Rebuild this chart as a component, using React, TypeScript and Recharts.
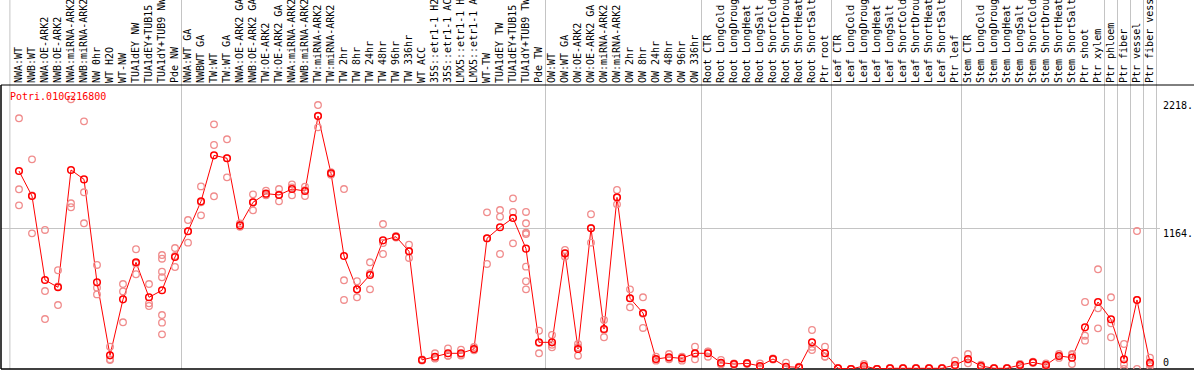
import React from 'react';
import { ComposedChart, Line, XAxis, YAxis, ReferenceLine } from 'recharts';

const title = 'Potri.010G216800';

const categories = [
  'NWA:WT', 'NWB:WT', 'NWA:OE-ARK2', 'NWB:OE-ARK2', 'NWA:miRNA-ARK2', 'NWB:miRNA-ARK2',
  'NW 0hr', 'WT H2O', 'WT-NW', 'TUA1dEY NW', 'TUA1dEY+TUB15 ', 'TUA1dY+TUB9 NW', 'Pde NW',
  'NWA:WT GA', 'NWBWT GA', 'TW:WT', 'TW:WT GA', 'NWA:OE-ARK2 GA', 'NWB:OE-ARK2 GA',
  'TW:OE-ARK2', 'TW:OE-ARK2 GA', 'NWA:miRNA-ARK2', 'NWB:miRNA-ARK2', 'TW:miRNA-ARK2',
  'TW:miRNA-ARK2', 'TW 2hr', 'TW 8hr', 'TW 24hr', 'TW 48hr', 'TW 96hr', 'TW 336hr',
  'WT ACC', '35S::etr1-1 H2', '35S::etr1-1 AC', 'LMX5::etr1-1 H', 'LMX5::etr1-1 A',
  'WT-TW', 'TUA1dEY TW', 'TUA1dEY+TUB15 ', 'TUA1dY+TUB9 TW', 'Pde TW',
  'OW:WT', 'OW:WT GA', 'OW:OE-ARK2', 'OW:OE-ARK2 GA', 'OW:miRNA-ARK2', 'OW:miRNA-ARK2',
  'OW 2hr', 'OW 8hr', 'OW 24hr', 'OW 48hr', 'OW 96hr', 'OW 336hr',
  'Root CTR', 'Root LongCold', 'Root LongDroug', 'Root LongHeat', 'Root LongSalt',
  'Root ShortCold', 'Root ShortDrou', 'Root ShortHeat', 'Root ShortSalt', 'Ptr root',
  'Leaf CTR', 'Leaf LongCold', 'Leaf LongDroug', 'Leaf LongHeat', 'Leaf LongSalt',
  'Leaf ShortCold', 'Leaf ShortDrou', 'Leaf ShortHeat', 'Leaf ShortSalt', 'Ptr leaf',
  'Stem CTR', 'Stem LongCold', 'Stem LongDroug', 'Stem LongHeat', 'Stem LongSalt',
  'Stem ShortCold', 'Stem ShortDrou', 'Stem ShortHeat', 'Stem ShortSalt',
  'Ptr shoot', 'Ptr xylem', 'Ptr phloem', 'Ptr fiber', 'Ptr vessel', 'Ptr fiber vess',
];

const meanValues = [
  1640, 1433, 737, 677, 1649, 1571, 718, 113, 577, 884, 594, 652, 928, 1141, 1389, 1770,
  1746, 1190, 1381, 1453, 1442, 1491, 1475, 2096, 1621, 936, 660, 779, 1066, 1096, 975,
  75, 102, 130, 130, 166, 1083, 1174, 1251, 997, 221, 221, 958, 166, 1166, 331, 1422,
  586, 464, 83, 97, 88, 130, 130, 52, 41, 47, 25, 83, 19, 14, 221, 130, 6, 0, 25, 0, 6,
  6, 6, 6, 6, 33, 83, 25, 6, 6, 33, 55, 33, 108, 94, 345, 555, 412, 80, 572, 52,
];

const replicateValues: number[][] = [
  [2077, 1489, 1356], [1737, 1124, 1438], [1152, 646, 414], [818, 530, 683],
  [2234, 1373, 1340], [2052, 1464, 1207], [862, 674, 618], [185, 80, 74],
  [704, 643, 387], [992, 785, 875], [704, 544, 522], [944, 914, 806, 760, 447, 384, 287],
  [1002, 845, 937], [1234, 1047, 1142], [1513, 1273, 1381], [2027, 1856, 1431],
  [1903, 1588, 1747], [1179, 1185, 1206], [1447, 1315, 1381], [1477, 1439, 1443],
  [1491, 1389, 1446], [1530, 1439, 1504], [1510, 1433, 1482], [2187, 2002, 2099],
  [1630, 1610, 1623], [1491, 735, 572], [727, 594, 660], [884, 660, 793],
  [1201, 953, 1044], [1096, 1090, 1102], [1030, 920, 975], [80, 70, 75],
  [130, 88, 88], [171, 110, 109], [160, 118, 112], [182, 155, 161],
  [1298, 870, 1081], [1317, 1262, 953], [1414, 1301, 1041],
  [1301, 1207, 1129, 1118, 848, 727, 660], [317, 130, 216], [282, 180, 201],
  [986, 930, 958], [207, 110, 180], [1282, 1047, 1169], [406, 263, 324],
  [1483, 1364, 1419], [660, 511, 587], [594, 340, 458], [102, 69, 78],
  [124, 80, 87], [102, 69, 93], [185, 80, 125], [102, 145, 143],
  [75, 39, 42], [41, 35, 47], [50, 41, 50], [47, 8, 20], [83, 78, 88], [52, 5, 0],
  [14, 8, 20], [323, 157, 183], [185, 102, 103], [5, 5, 8], [0, 0, 0], [41, 8, 25],
  [0, 0, 0], [6, 4, 8], [6, 4, 8], [6, 4, 8], [6, 4, 8], [6, 4, 8], [69, 8, 22],
  [124, 47, 78], [14, 36, 25], [6, 4, 8], [6, 4, 8], [41, 19, 39], [55, 50, 60],
  [47, 19, 33], [124, 92, 108], [124, 41, 116], [555, 276, 235], [826, 503, 337],
  [594, 379, 263], [207, 39, 0], [1143, 0, 573], [94, 39, 23],
];

const yTicks = [0, 1164, 2218];
const yTickLabels = ['0', '1164.', '2218.'];
const groupBreaks = [-0.7, 12.5, 40.5, 52.5, 62.5, 72.5, 83.5, 84.5, 85.5, 86.5, 87.5];

const MAX_REPS = Math.max(...replicateValues.map((r) => r.length));
const repKeys = Array.from({ length: MAX_REPS }, (_, j) => 'r' + j);

const data = categories.map((name, i) => {
  const row: Record<string, any> = { i, name, mean: meanValues[i] };
  (replicateValues[i] || []).forEach((v, j) => {
    row['r' + j] = v;
  });
  return row;
});

const X_DOMAIN: [number, number] = [-18 / 13, 1175 / 13];
const Y_DOMAIN: [number, number] = [0, 2353];
const Y_PAGE_TOP = 3057;
const GRID_END_X = 1141 / 13;

const FONT = '"DejaVu Sans Mono", monospace';
const RED = '#ff0000';
const PINK = '#f08c8c';
const GRID = '#c4c4c4';

const CategoryTick = (props: any) => {
  const { x, y, payload } = props;
  const label = categories[payload.value] ?? '';
  const tx = x + 3;
  const ty = y - 2;
  return (
    <text
      x={tx}
      y={ty}
      transform={`rotate(-90 ${tx} ${ty})`}
      fontFamily={FONT}
      fontSize={10}
      fill="#000"
      textAnchor="start"
    >
      {label}
    </text>
  );
};

const ValueTick = (props: any) => {
  const { x, y, payload } = props;
  const idx = yTicks.indexOf(payload.value);
  const label = idx >= 0 ? yTickLabels[idx] : String(payload.value);
  const ty = payload.value === 0 ? y - 3 : y + 8;
  return (
    <g>
      <text x={x - 31} y={ty} fontFamily={FONT} fontSize={10} fill="#000" textAnchor="start">
        {label}
      </text>
    </g>
  );
};

export default function App() {
  return (
    <div
      style={{
        position: 'absolute',
        left: 0,
        top: 0,
        width: 1194,
        height: 370,
        background: '#fff',
        overflow: 'hidden',
      }}
    >
      <ComposedChart
        width={1194}
        height={370}
        data={data}
        margin={{ top: 0, right: 0, bottom: 1, left: 1 }}
      >
        <XAxis
          xAxisId="top"
          orientation="top"
          type="number"
          dataKey="i"
          domain={X_DOMAIN}
          allowDataOverflow
          ticks={data.map((d) => d.i)}
          interval={0}
          tick={(p: any) => <CategoryTick {...p} />}
          tickLine={false}
          tickSize={0}
          tickMargin={0}
          height={85}
          axisLine={{ stroke: '#000', strokeWidth: 1 }}
        />
        <YAxis
          orientation="right"
          mirror
          width={31}
          type="number"
          domain={Y_DOMAIN}
          allowDataOverflow
          ticks={yTicks}
          interval={0}
          tick={(p: any) => <ValueTick {...p} />}
          tickLine={false}
          axisLine={false}
          tickSize={0}
          tickMargin={0}
        />
        {groupBreaks.map((b) => (
          <ReferenceLine
            key={'g' + b}
            xAxisId="top"
            segment={[
              { x: b, y: 0 },
              { x: b, y: Y_PAGE_TOP },
            ]}
            ifOverflow="visible"
            stroke={GRID}
            strokeWidth={1}
          />
        ))}
        <ReferenceLine
          xAxisId="top"
          segment={[
            { x: X_DOMAIN[0], y: 1164 },
            { x: GRID_END_X, y: 1164 },
          ]}
          ifOverflow="visible"
          stroke={GRID}
          strokeWidth={1}
        />
        <ReferenceLine xAxisId="top" x={X_DOMAIN[0]} stroke="#000" strokeWidth={1.5} ifOverflow="visible" />
        <ReferenceLine xAxisId="top" y={0} stroke="#000" strokeWidth={1.5} ifOverflow="visible" />
        {repKeys.map((k) => (
          <Line
            key={k}
            xAxisId="top"
            type="linear"
            dataKey={k}
            stroke="none"
            strokeWidth={0}
            dot={{ r: 3.3, stroke: PINK, strokeWidth: 1.3, fill: 'none' }}
            activeDot={false}
            isAnimationActive={false}
            legendType="none"
          />
        ))}
        <Line
          xAxisId="top"
          type="linear"
          dataKey="mean"
          stroke={RED}
          strokeWidth={1}
          dot={{ r: 3.3, stroke: RED, strokeWidth: 1.5, fill: 'none' }}
          activeDot={false}
          isAnimationActive={false}
        />
      </ComposedChart>
      <div
        style={{
          position: 'absolute',
          left: 10,
          top: 92,
          fontFamily: FONT,
          fontSize: 10,
          lineHeight: '10px',
          color: RED,
          whiteSpace: 'pre',
        }}
      >
        {title}
      </div>
    </div>
  );
}
